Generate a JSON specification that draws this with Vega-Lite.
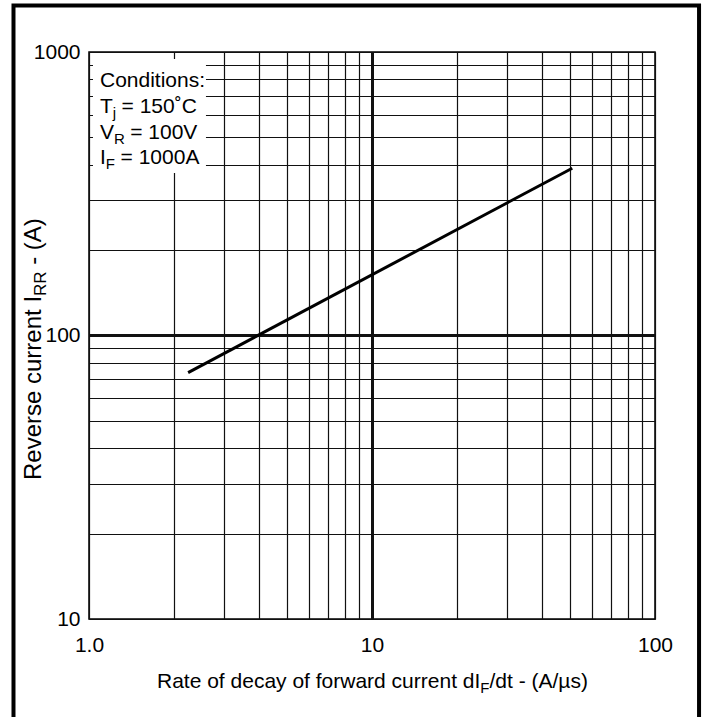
{
  "$schema": "https://vega.github.io/schema/vega-lite/v6.json",
  "width": 566,
  "height": 567,
  "autosize": {"type": "none"},
  "padding": {"left": 89, "top": 52, "right": 56, "bottom": 98},
  "background": "white",
  "data": {"values": [{}]},
  "config": {
    "font": "Liberation Sans",
    "view": {"stroke": "black", "strokeWidth": 1.5},
    "axis": {"domain": false, "ticks": false, "grid": true, "labelFont": "Liberation Sans", "labelFontSize": 21, "labelColor": "black", "gridColor": "#111111", "gridOpacity": 1, "labelOverlap": false, "labelFlush": false},
    "text": {"font": "Liberation Sans", "fontSize": 21, "color": "black", "align": "left", "baseline": "alphabetic"}
  },
  "layer": [
    {
      "mark": {"type": "rect", "fill": "white", "strokeWidth": 0},
      "encoding": {
        "x": {"datum": 1.033, "type": "quantitative", "scale": {"type": "log", "domain": [1, 100]},
          "axis": {"title": null, "grid": true, "values": [1,2,3,4,5,6,7,8,9,10,20,30,40,50,60,70,80,90,100],
            "labelExpr": "datum.value == 1 ? '1.0' : (datum.value == 10 ? '10' : (datum.value == 100 ? '100' : ''))",
            "labelPadding": 15,
            "gridWidth": {"condition": {"test": "datum.value == 10", "value": 3}, "value": 1.2}}},
        "x2": {"datum": 2.59},
        "y": {"datum": 944, "type": "quantitative", "scale": {"type": "log", "domain": [10, 1000]},
          "axis": {"title": null, "grid": true, "values": [10,20,30,40,50,60,70,80,90,100,200,300,400,500,600,700,800,900,1000],
            "labelExpr": "datum.value == 10 ? '10' : (datum.value == 100 ? '100' : (datum.value == 1000 ? '1000' : ''))",
            "labelPadding": 9,
            "gridWidth": {"condition": {"test": "datum.value == 100", "value": 3}, "value": 1.2}}},
        "y2": {"datum": 374}
      }
    },
    {
      "data": {"values": [{"rate": 2.24, "irr": 74}, {"rate": 51, "irr": 389}]},
      "mark": {"type": "line", "color": "black", "strokeWidth": 3, "strokeCap": "butt"},
      "encoding": {
        "x": {"field": "rate", "type": "quantitative"},
        "y": {"field": "irr", "type": "quantitative"}
      }
    },
    {"mark": {"type": "text", "text": "Conditions:"}, "encoding": {"x": {"datum": 1.0936, "type": "quantitative"}, "y": {"datum": 752.6, "type": "quantitative"}}},
    {"mark": {"type": "text", "text": "T"}, "encoding": {"x": {"datum": 1.0936, "type": "quantitative"}, "y": {"datum": 609.2, "type": "quantitative"}}},
    {"mark": {"type": "text", "text": "j", "fontSize": 15, "dx": 12.8, "dy": 5}, "encoding": {"x": {"datum": 1.0936, "type": "quantitative"}, "y": {"datum": 609.2, "type": "quantitative"}}},
    {"mark": {"type": "text", "text": "= 150˚C", "dx": 21.6}, "encoding": {"x": {"datum": 1.0936, "type": "quantitative"}, "y": {"datum": 609.2, "type": "quantitative"}}},
    {"mark": {"type": "text", "text": "V"}, "encoding": {"x": {"datum": 1.0936, "type": "quantitative"}, "y": {"datum": 493.3, "type": "quantitative"}}},
    {"mark": {"type": "text", "text": "R", "fontSize": 15, "dx": 14, "dy": 5}, "encoding": {"x": {"datum": 1.0936, "type": "quantitative"}, "y": {"datum": 493.3, "type": "quantitative"}}},
    {"mark": {"type": "text", "text": "= 100V", "dx": 30.2}, "encoding": {"x": {"datum": 1.0936, "type": "quantitative"}, "y": {"datum": 493.3, "type": "quantitative"}}},
    {"mark": {"type": "text", "text": "I"}, "encoding": {"x": {"datum": 1.0936, "type": "quantitative"}, "y": {"datum": 402.7, "type": "quantitative"}}},
    {"mark": {"type": "text", "text": "F", "fontSize": 15, "dx": 5.8, "dy": 5}, "encoding": {"x": {"datum": 1.0936, "type": "quantitative"}, "y": {"datum": 402.7, "type": "quantitative"}}},
    {"mark": {"type": "text", "text": "= 1000A", "dx": 20.6}, "encoding": {"x": {"datum": 1.0936, "type": "quantitative"}, "y": {"datum": 402.7, "type": "quantitative"}}},
    {"mark": {"type": "text", "text": "Rate of decay of forward current dI", "dx": -215}, "encoding": {"x": {"datum": 10, "type": "quantitative"}, "y": {"datum": 5.71, "type": "quantitative"}}},
    {"mark": {"type": "text", "text": "F", "fontSize": 15, "dx": 108.3, "dy": 5}, "encoding": {"x": {"datum": 10, "type": "quantitative"}, "y": {"datum": 5.71, "type": "quantitative"}}},
    {"mark": {"type": "text", "text": "/dt - (A/µs)", "dx": 117.5}, "encoding": {"x": {"datum": 10, "type": "quantitative"}, "y": {"datum": 5.71, "type": "quantitative"}}},
    {"mark": {"type": "text", "text": "Reverse current I", "angle": 270, "fontSize": 24, "dx": -131}, "encoding": {"x": {"datum": 0.674, "type": "quantitative"}, "y": {"datum": 89.6, "type": "quantitative"}}},
    {"mark": {"type": "text", "text": "RR", "angle": 270, "fontSize": 17, "dx": 53, "dy": 5.5}, "encoding": {"x": {"datum": 0.674, "type": "quantitative"}, "y": {"datum": 89.6, "type": "quantitative"}}},
    {"mark": {"type": "text", "text": "- (A)", "angle": 270, "fontSize": 24, "dx": 84.2}, "encoding": {"x": {"datum": 0.674, "type": "quantitative"}, "y": {"datum": 89.6, "type": "quantitative"}}},
    {
      "mark": {"type": "rect", "fill": null, "fillOpacity": 0, "stroke": "black", "strokeWidth": 4},
      "encoding": {
        "x": {"datum": 0.541, "type": "quantitative"},
        "x2": {"datum": 143.1},
        "y": {"datum": 1459, "type": "quantitative"},
        "y2": {"datum": 4.06}
      }
    }
  ]
}
